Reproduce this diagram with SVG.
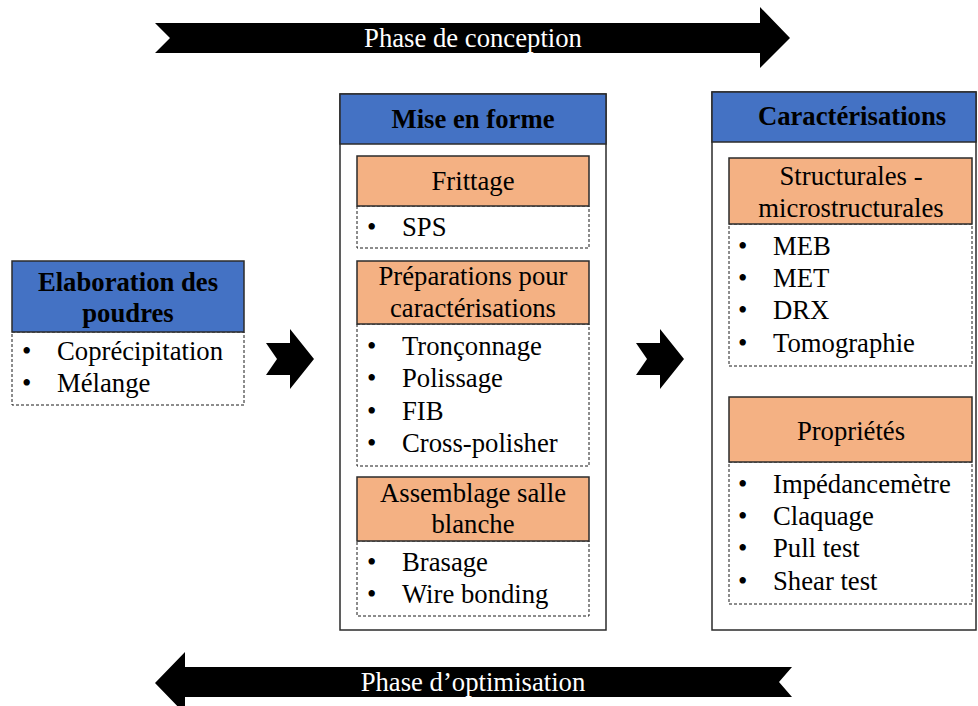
<svg xmlns="http://www.w3.org/2000/svg" width="978" height="706" viewBox="0 0 978 706" font-family="'Liberation Serif', 'DejaVu Serif', serif">
<style>
text { font-family: 'Liberation Serif', 'DejaVu Serif', serif; font-size: 26.7px; fill: #000; }
.b { font-weight: bold; }
.c { text-anchor: middle; }
.w { fill: #fff; }
.hdr { fill: #4472C4; stroke: #2b2b2b; stroke-width: 1.5; }
.sub { fill: #F4B183; stroke: #2b2b2b; stroke-width: 1.5; }
.out { fill: #fff; stroke: #2b2b2b; stroke-width: 1.5; }
.dash { fill: #fff; stroke: #1a1a1a; stroke-width: 1; stroke-dasharray: 3 2; }
.arr { fill: #000; }
</style>
<rect width="978" height="706" fill="#fff"/>

<g id="phase-conception">
<polygon class="arr" points="155,23 760,23 760,7 790,38 760,68 760,53 155,53 170,38"/>
<text class="c w" x="473" y="47">Phase de conception</text>
</g>

<g id="phase-optimisation">
<polygon class="arr" points="155,683 185,652 185,667 792,667 779,682 792,697 185,697 185,714"/>
<text class="c w" x="473" y="691">Phase d’optimisation</text>
</g>

<g id="connectors">
<polygon class="arr" points="266,343 290,343 290,329 314,359 290,389 290,375 266,375 277,359"/>
<polygon class="arr" points="636,343 660,343 660,329 684,359 660,389 660,375 636,375 647,359"/>
</g>

<g id="elaboration">
<rect class="dash" x="12" y="332" width="232" height="73"/>
<rect class="hdr" x="12" y="261" width="232" height="71"/>
<text class="c b" x="128" y="291">Elaboration des</text>
<text class="c b" x="128" y="322">poudres</text>
<text x="22" y="360">•</text><text x="57" y="360">Coprécipitation</text>
<text x="22" y="392">•</text><text x="57" y="392">Mélange</text>
</g>

<g id="mise-en-forme">
<rect class="out" x="340" y="94" width="266" height="536"/>
<rect class="hdr" x="340" y="94" width="266" height="50"/>
<text class="c b" x="473" y="128">Mise en forme</text>
</g>

<g id="frittage">
<rect class="dash" x="357" y="206" width="232" height="42"/>
<rect class="sub" x="357" y="156" width="232" height="50"/>
<text class="c" x="473" y="190">Frittage</text>
<text x="367" y="236">•</text><text x="402" y="236">SPS</text>
</g>

<g id="preparations">
<rect class="dash" x="357" y="324" width="232" height="142"/>
<rect class="sub" x="357" y="261" width="232" height="63"/>
<text class="c" x="473" y="285">Préparations pour</text>
<text class="c" x="473" y="317">caractérisations</text>
<text x="367" y="355">•</text><text x="402" y="355">Tronçonnage</text>
<text x="367" y="387">•</text><text x="402" y="387">Polissage</text>
<text x="367" y="420">•</text><text x="402" y="420">FIB</text>
<text x="367" y="452">•</text><text x="402" y="452">Cross-polisher</text>
</g>

<g id="assemblage">
<rect class="dash" x="357" y="541" width="232" height="75"/>
<rect class="sub" x="357" y="477" width="232" height="64"/>
<text class="c" x="473" y="502">Assemblage salle</text>
<text class="c" x="473" y="533">blanche</text>
<text x="367" y="571">•</text><text x="402" y="571">Brasage</text>
<text x="367" y="603">•</text><text x="402" y="603">Wire bonding</text>
</g>

<g id="caracterisations">
<rect class="out" x="712" y="92" width="264" height="538"/>
<rect class="hdr" x="712" y="92" width="264" height="50"/>
<text class="c b" x="852" y="125">Caractérisations</text>
</g>

<g id="structurales">
<rect class="dash" x="729" y="224" width="243" height="142"/>
<rect class="sub" x="729" y="158" width="243" height="66"/>
<text class="c" x="851" y="185">Structurales -</text>
<text class="c" x="851" y="217">microstructurales</text>
<text x="738" y="255">•</text><text x="773" y="255">MEB</text>
<text x="738" y="287">•</text><text x="773" y="287">MET</text>
<text x="738" y="319">•</text><text x="773" y="319">DRX</text>
<text x="738" y="352">•</text><text x="773" y="352">Tomographie</text>
</g>

<g id="proprietes">
<rect class="dash" x="729" y="462" width="243" height="142"/>
<rect class="sub" x="729" y="397" width="243" height="65"/>
<text class="c" x="851" y="440">Propriétés</text>
<text x="738" y="493">•</text><text x="773" y="493">Impédancemètre</text>
<text x="738" y="525">•</text><text x="773" y="525">Claquage</text>
<text x="738" y="557">•</text><text x="773" y="557">Pull test</text>
<text x="738" y="590">•</text><text x="773" y="590">Shear test</text>
</g>
</svg>
